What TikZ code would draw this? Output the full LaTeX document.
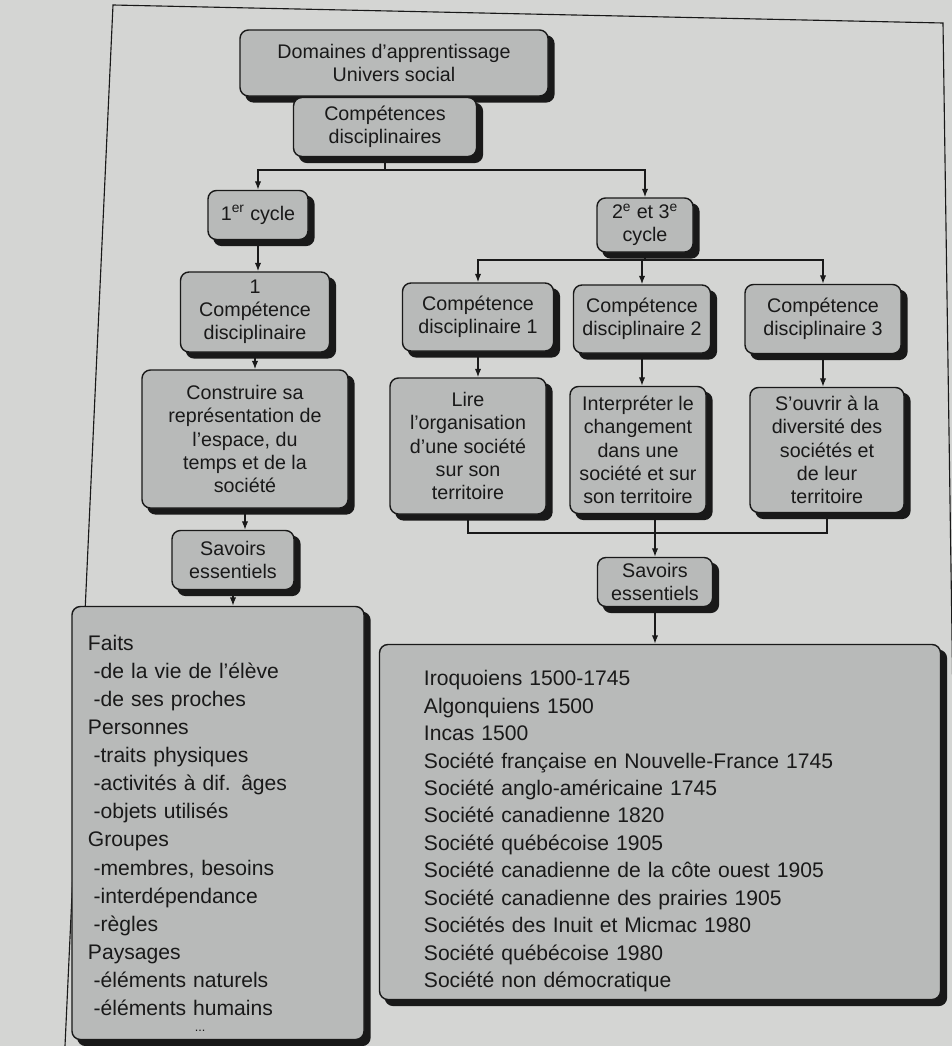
\documentclass[tikz,border=0pt]{standalone}
\usepackage{fontspec}
\setmainfont{Liberation Sans}
\usetikzlibrary{arrows.meta,backgrounds}
\definecolor{papier}{RGB}{212,213,211}
\definecolor{boite}{RGB}{184,186,185}
\definecolor{encre}{RGB}{25,25,25}

\begin{document}
\begin{tikzpicture}[x=0.025cm,y=-0.025cm,
  box/.style={draw=encre, line width=1pt, fill=boite, rounded corners=6pt, align=center, inner sep=2pt, text=encre,
    font=\fontsize{14}{16.5}\selectfont},
  taille/.style 2 args={minimum width=#1*0.025cm, minimum height=#2*0.025cm},
  liste/.style={box, align=left, inner ysep=0pt},
  ombre/.style={fill=encre, rounded corners=6pt},
  trait/.style={draw=encre, line width=0.9pt},
  fleche/.style={trait, -{Latex[length=6pt,width=4.5pt]}}]
\useasboundingbox (0,0) rectangle (952,1046);

% haut du schema
\node[box, taille={308}{66}] (dom) at (394,63) {Domaines d'apprentissage\\Univers social};
\node[box, taille={183}{59}] (cd) at (385,127) {Compétences\\disciplinaires};
\node[box, taille={100}{49}] (c1) at (258,215) {1\textsuperscript{er} cycle};
\node[box, taille={96}{54}] (c23) at (645,225) {2\textsuperscript{e} et 3\textsuperscript{e}\\cycle};

% competences
\node[box, taille={149}{80}] (cd0) at (255,312) {1\\Compétence\\disciplinaire};
\node[box, taille={151}{68}] (cd1) at (478,317) {Compétence\\disciplinaire 1};
\node[box, taille={137}{68}] (cd2) at (642,319) {Compétence\\disciplinaire 2};
\node[box, taille={156}{69}] (cd3) at (823,319) {Compétence\\disciplinaire 3};

\node[box, taille={206}{138}] (ob0) at (245,439) {Construire sa\\représentation de\\l'espace, du\\temps et de la\\société};
\node[box, taille={156}{136}] (ob1) at (468,446) {Lire\\l'organisation\\d'une société\\sur son\\territoire};
\node[box, taille={136}{127}] (ob2) at (638,450) {Interpréter le\\changement\\dans une\\société et sur\\son territoire};
\node[box, taille={154}{125}] (ob3) at (827,450) {S'ouvrir à la\\diversité des\\sociétés et\\de leur\\territoire};

\node[box, taille={122}{59}] (sv0) at (233,560) {Savoirs\\essentiels};
\node[box, taille={115}{49}] (sv1) at (655,582) {Savoirs\\essentiels};

% savoirs
\node[liste, taille={292}{433}, text width=6.5cm, inner xsep=0.4cm, font=\fontsize{15}{20}\selectfont] (li0) at (218,823)
  {\rule{0pt}{25pt}Faits\\
   \hspace*{4pt}-de la vie de l'élève\\
   \hspace*{4pt}-de ses proches\\
   Personnes\\
   \hspace*{4pt}-traits physiques\\
   \hspace*{4pt}-activités à dif. âges\\
   \hspace*{4pt}-objets utilisés\\
   Groupes\\
   \hspace*{4pt}-membres, besoins\\
   \hspace*{4pt}-interdépendance\\
   \hspace*{4pt}-règles\\
   Paysages\\
   \hspace*{4pt}-éléments naturels\\
   \hspace*{4pt}-éléments humains\\[-9pt]
   \hspace*{76pt}{\small...}};
\node[liste, taille={561}{355}, text width=11.8cm, inner xsep=1.1cm, font=\fontsize{15}{19.5}\selectfont] (li1) at (660,822)
  {\rule{0pt}{24pt}Iroquoiens 1500-1745\\
   Algonquiens 1500\\
   Incas 1500\\
   Société française en Nouvelle-France 1745\\
   Société anglo-américaine 1745\\
   Société canadienne 1820\\
   Société québécoise 1905\\
   Société canadienne de la côte ouest 1905\\
   Société canadienne des prairies 1905\\
   Sociétés des Inuit et Micmac 1980\\
   Société québécoise 1980\\
   Société non démocratique};

% fond, cadre et ombres
\begin{scope}[on background layer]
\fill[papier] (0,0) rectangle (952,1046);
\draw[encre, line width=0.8pt] (65,1046) -- (113,5) -- (943,23) -- (958,1046);
\foreach \n in {dom,cd,c1,c23,cd0,cd1,cd2,cd3,ob0,ob1,ob2,ob3,sv0,sv1,li0,li1}
  \fill[ombre] ([shift={(4.2pt,-4.2pt)}]\n.south west) rectangle ([shift={(4.2pt,-4.2pt)}]\n.north east);
\end{scope}

% liaisons
\coordinate (j1) at (385,170);
\coordinate (j2) at (645,260);
\coordinate (j3) at (655,533);
\draw[trait] (cd.south) -- (j1);
\draw[fleche] (j1) -| (c1.north);
\draw[fleche] (j1) -| (c23.north);
\draw[fleche] (c1.south) -- (c1.south |- cd0.north);
\draw[trait] (c23.south) -- (j2);
\foreach \n in {cd1,cd2,cd3}
  \draw[fleche] (j2) -| (\n.north);
\foreach \a/\b in {cd0/ob0,cd1/ob1,cd2/ob2,cd3/ob3,ob0/sv0,sv0/li0,sv1/li1}
  \draw[fleche] (\a.south) -- (\a.south |- \b.north);
\draw[trait] (ob1.south) |- (j3);
\draw[trait] (ob3.south) |- (j3);
\draw[fleche] (sv1.north |- ob2.south) -- (sv1.north);
\end{tikzpicture}
\end{document}
